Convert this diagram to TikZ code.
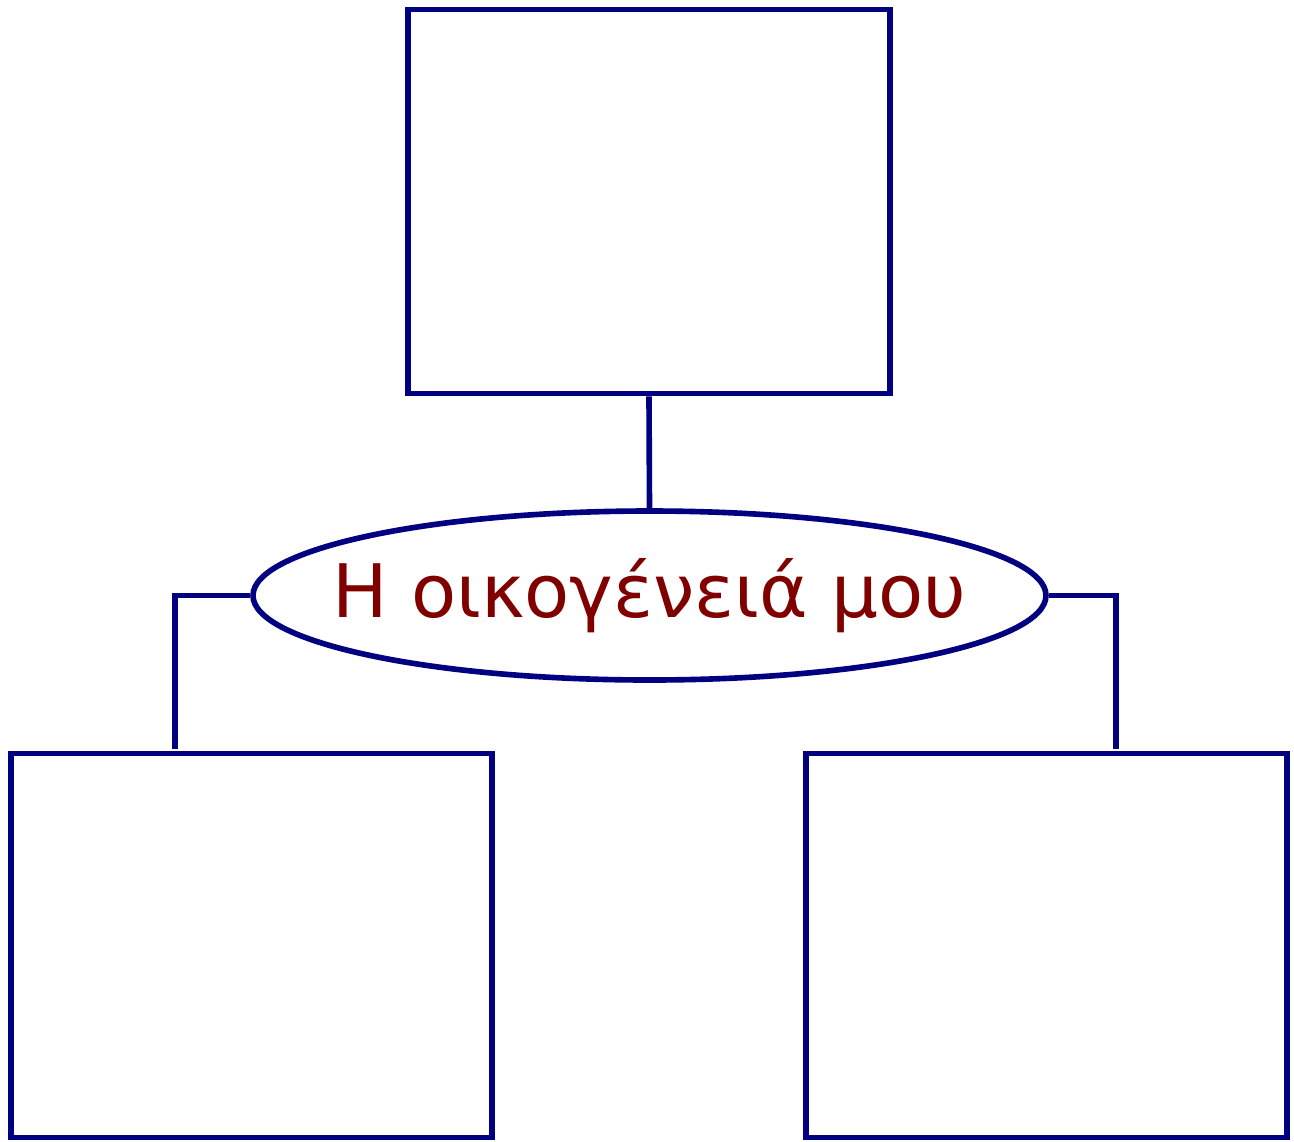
\documentclass[tikz,border=0pt]{standalone}
\usepackage{fontspec}
\newfontfamily\greekfont{DejaVu Sans}
\usepackage{tikz}
\usetikzlibrary{positioning, shapes.geometric}
\definecolor{famblue}{RGB}{0,0,128}
\definecolor{famred}{RGB}{128,0,0}

\begin{document}
\begin{tikzpicture}[line width=3.2pt,
  box/.style={draw=famblue, rectangle, minimum width=9.63cm, minimum height=7.68cm, inner sep=0pt},
  title/.style={draw=famblue, ellipse, minimum width=15.86cm, minimum height=3.38cm, inner sep=0pt,
    text=famred, font=\greekfont\fontsize{42}{50}\selectfont},
  link/.style={draw=famblue}]
\useasboundingbox (0,0) rectangle (25.88,-22.82);
% boxes for the family members
\node[box] (parent) at (12.98,-4.03) {};
\node[box] (lkid) at (5.03,-18.91) {};
\node[box] (rkid) at (20.93,-18.91) {};
% the title in the middle
\node[title] (fam) at (12.99,-11.91) {\makebox[0pt]{Η οικογένειά μου}};
% connectors
\coordinate (lend) at (3.5,-14.98);
\coordinate (rend) at (22.32,-14.98);
\draw[link] (parent.south) -- (fam.north);
\draw[link] (fam.west) -| (lend);
\draw[link] (fam.east) -| (rend);
\end{tikzpicture}
\end{document}
